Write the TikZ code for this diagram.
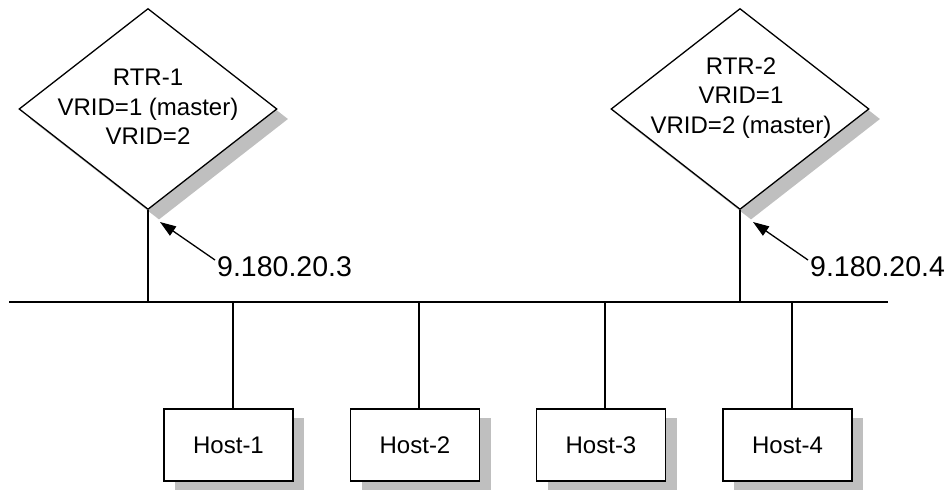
\documentclass[tikz,border=0pt]{standalone}
\usepackage{fontspec}
\setmainfont{Liberation Sans}
\usetikzlibrary{shapes.geometric,arrows.meta}
\begin{document}
\begin{tikzpicture}[x=1pt,y=-1pt,
  ln/.style={line width=1.3pt,black},
  rtr/.style={diamond,draw,line width=1.3pt,fill=white,minimum width=258pt,minimum height=201pt,inner sep=0pt},
  rtrshadow/.style={diamond,fill=gray!50,minimum width=258pt,minimum height=201pt,inner sep=0pt},
  rtrtxt/.style={align=center,font=\fontsize{24}{29.5}\selectfont,inner sep=0pt},
  host/.style={rectangle,draw,line width=1.3pt,fill=white,minimum width=129pt,minimum height=72pt,inner sep=0pt,font=\fontsize{24}{29}\selectfont},
  hostshadow/.style={rectangle,fill=gray!50,minimum width=129pt,minimum height=72pt,inner sep=0pt},
  iplab/.style={anchor=west,inner sep=0pt,font=\fontsize{28.5}{34}\selectfont},
  arr/.style={line width=1.3pt,-{Triangle[length=16pt,width=11pt]}}
]
\useasboundingbox (0,0) rectangle (948,490);
% router shadows and routers
\node[rtrshadow] (r1s) at (159,119) {};
\node[rtrshadow] (r2s) at (751,119) {};
\node[rtr] (r1) at (148,109) {};
\node[rtr] (r2) at (740,109) {};
\node[rtrtxt] (r1t) at (148,107) {RTR-1\\VRID=1 (master)\\VRID=2};
\node[rtrtxt] (r2t) at (741,98) {RTR-2\\VRID=1\\VRID=2 (master)};
% bus
\coordinate (busL) at (9,302);
\coordinate (busR) at (888,302);
\draw[ln] (busL) -- (busR);
% router drops
\draw[ln] (r1.south) -- (r1.south |- busL);
\draw[ln] (r2.south) -- (r2.south |- busL);
% address labels
\node[iplab] (ip1) at (217,267) {9.180.20.3};
\node[iplab] (ip2) at (810,267) {9.180.20.4};
\coordinate (t1) at (160,222);
\coordinate (t2) at (753,222);
\draw[arr] ([xshift=-2pt,yshift=7pt]ip1.west) -- (t1);
\draw[arr] ([xshift=-2pt,yshift=7pt]ip2.west) -- (t2);
% hosts
\foreach \n/\x in {1/228.5,2/415,3/601,4/787.5}{
  \node[hostshadow] (h\n s) at (\x+11,454) {};
}
\node[host] (h1) at (228.5,445) {Host-1};
\node[host] (h2) at (415,445) {Host-2};
\node[host] (h3) at (601,445) {Host-3};
\node[host] (h4) at (787.5,445) {Host-4};
\coordinate (b1) at (233,302);
\coordinate (b2) at (419,302);
\coordinate (b3) at (605,302);
\coordinate (b4) at (792,302);
\draw[ln] (b1) -- (b1 |- h1.north);
\draw[ln] (b2) -- (b2 |- h2.north);
\draw[ln] (b3) -- (b3 |- h3.north);
\draw[ln] (b4) -- (b4 |- h4.north);
\end{tikzpicture}
\end{document}
